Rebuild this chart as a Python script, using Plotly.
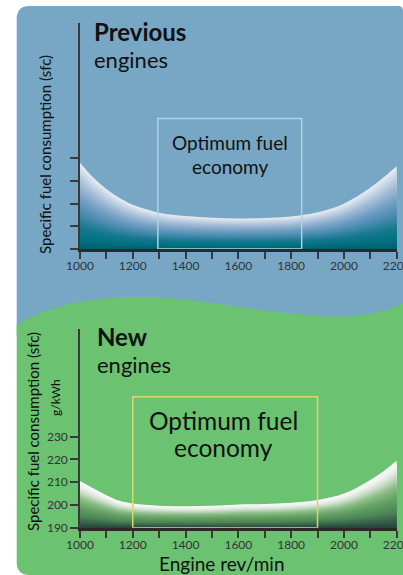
import plotly.graph_objects as go

W, H = 403, 575

# ---------------- data ----------------
rpm = [1000, 1050, 1100, 1150, 1200, 1300, 1400, 1500, 1600, 1700, 1800, 1900, 2000, 2100, 2150, 2200]
sfc_previous = [228.0, 221.5, 216.5, 212.5, 209.5, 206.0, 204.5, 203.8, 203.5, 203.7, 204.3, 206.2, 210.0, 217.0, 221.5, 226.6]
sfc_new = [210.5, 207.3, 204.3, 201.8, 200.6, 199.7, 199.4, 199.6, 200.2, 200.4, 201.0, 202.2, 205.0, 211.0, 214.8, 219.5]

x_tick_vals = [1000, 1100, 1200, 1300, 1400, 1500, 1600, 1700, 1800, 1900, 2000, 2100, 2200]
x_tick_text = ["1000", "", "1200", "", "1400", "", "1600", "", "1800", "", "2000", "", "2200"]
y_tick_vals = [190, 200, 210, 220, 230]
y_tick_text = ["190", "200", "210", "220", "230"]

optimum_previous = [1295, 1840]
optimum_new = [1200, 1900]
optimum_top = 247.5
sfc_base = 190

# ---------------- helpers ----------------
def px(x):
    return x / W

def py(y):
    return 1 - y / H

def hex2rgb(h):
    h = h.lstrip("#")
    return tuple(int(h[i:i + 2], 16) for i in (0, 2, 4))

def interp_color(stops, t):
    for (f0, c0), (f1, c1) in zip(stops[:-1], stops[1:]):
        if f0 <= t <= f1:
            a = (t - f0) / (f1 - f0) if f1 > f0 else 0
            r0, g0, b0 = hex2rgb(c0)
            r1, g1, b1 = hex2rgb(c1)
            return "rgb(%d,%d,%d)" % (round(r0 + (r1 - r0) * a), round(g0 + (g1 - g0) * a), round(b0 + (b1 - b0) * a))
    return stops[-1][1]

stops_prev = [(0.0, "#005d6d"), (0.1, "#00717f"), (0.25, "#15798e"), (0.42, "#4a8bb0"),
              (0.6, "#77a1c5"), (0.78, "#a8c0d9"), (0.92, "#d2dde9"), (1.0, "#e7edf4")]
stops_new = [(0.0, "#24423a"), (0.1, "#355f49"), (0.25, "#4d8756"), (0.45, "#64a265"),
             (0.62, "#8dbd8a"), (0.78, "#cfe0cd"), (0.9, "#f0f3f0"), (1.0, "#fafafa")]

fig = go.Figure()

N = 40
def add_gradient(curve, stops, xa, ya):
    # draw from the top (lightest) down, each layer filled to the axis so no seams show
    for k in range(N, 0, -1):
        f = k / N
        yk = [sfc_base + (v - sfc_base) * f for v in curve]
        fig.add_trace(go.Scatter(x=rpm, y=yk, mode="lines", line=dict(width=0, shape="spline", smoothing=1.0),
                                 fill="tozeroy", fillcolor=interp_color(stops, (k - 0.5) / N),
                                 xaxis=xa, yaxis=ya, hoverinfo="skip", showlegend=False))

add_gradient(sfc_previous, stops_prev, "x", "y")
add_gradient(sfc_new, stops_new, "x2", "y2")

# ---------------- background panels ----------------
blue = "#78a7c5"
green = "#6bc271"

def path(cmds):
    out = []
    for c in cmds:
        if isinstance(c, str):
            out.append(c)
        else:
            out.append("%.5f,%.5f" % (px(c[0]), py(c[1])))
    return " ".join(out)

blue_path = path(["M", (16.7, 19), "Q", (16.7, 6), (29.7, 6), "L", (398, 6), "Q", (403, 6), (403, 11),
                  "L", (403, 335), "L", (16.7, 335), "Z"])
green_path = path(["M", (16.7, 325), "C", (50, 303), (100, 297), (140, 297),
                   "C", (200, 297), (260, 314), (330, 316.5),
                   "C", (370, 317), (390, 310), (403, 303),
                   "L", (403, 575), "L", (29.7, 575), "Q", (16.7, 575), (16.7, 562), "Z"])

shapes = [
    dict(type="path", path=blue_path, xref="paper", yref="paper", fillcolor=blue, line=dict(width=0), layer="below"),
    dict(type="path", path=green_path, xref="paper", yref="paper", fillcolor=green, line=dict(width=0), layer="below"),
    dict(type="rect", xref="x", yref="y", x0=optimum_previous[0], x1=optimum_previous[1], y0=sfc_base, y1=optimum_top,
         line=dict(color="#a9d6de", width=1.5), fillcolor="rgba(0,0,0,0)", layer="above"),
    dict(type="rect", xref="x2", yref="y2", x0=optimum_new[0], x1=optimum_new[1], y0=sfc_base, y1=optimum_top,
         line=dict(color="#d9d66c", width=1.5), fillcolor="rgba(0,0,0,0)", layer="above"),
]

FONT = "Lato"
TXT = "#111111"

def ann(text, x, y, size, bold=False, xanchor="left", angle=0, color=TXT):
    return dict(text=("<b>%s</b>" % text) if bold else text, x=px(x), y=py(y), xref="paper", yref="paper",
                xanchor=xanchor, yanchor="middle", showarrow=False, textangle=angle,
                font=dict(family=FONT, size=size, color=color))

annotations = [
    ann("Previous", 92, 32, 24, bold=True),
    ann("engines", 92, 60, 22),
    ann("Optimum fuel", 230, 143, 19, xanchor="center"),
    ann("economy", 230, 166, 19, xanchor="center"),
    ann("New", 95, 336, 24, bold=True),
    ann("engines", 95, 364, 22),
    ann("Optimum fuel", 223, 420, 24.5, xanchor="center"),
    ann("economy", 223, 447, 24.5, xanchor="center"),
    ann("Specific fuel consumption (sfc)", 45, 155, 15, xanchor="center", angle=-90),
    ann("Specific fuel consumption (sfc)", 33, 432, 15, xanchor="center", angle=-90),
    ann("g/kWh", 55, 398, 12, xanchor="center", angle=-90),
    ann("Engine rev/min", 222, 563, 19, xanchor="center"),
]

xdom = [px(80), px(396.7)]
axis_common_x = dict(range=[1000, 2200], domain=xdom, showgrid=False, zeroline=False, showline=True,
                     linecolor="#2a2a2a", linewidth=3, ticks="outside", ticklen=7, tickwidth=1.5,
                     tickcolor="#3a3a3a", tickvals=x_tick_vals, ticktext=x_tick_text, automargin=False,
                     ticklabeloverflow="allow", ticklabelstandoff=-3,
                     tickfont=dict(family=FONT, size=12, color="#333333"), fixedrange=True)
axis_common_y = dict(showgrid=False, zeroline=False, showline=True, linecolor="#3a3a3a", linewidth=1.5,
                     ticks="outside", ticklen=8, tickwidth=1.5, tickcolor="#3a3a3a", automargin=False,
                     tickvals=y_tick_vals, ticktext=y_tick_text,
                     tickfont=dict(family=FONT, size=12, color="#333333"), fixedrange=True)

fig.update_layout(
    template="none",
    width=W, height=H,
    margin=dict(l=0, r=0, t=0, b=0, autoexpand=False),
    paper_bgcolor="white", plot_bgcolor="rgba(0,0,0,0)",
    showlegend=False,
    xaxis=dict(axis_common_x, anchor="y"),
    yaxis=dict(axis_common_y, anchor="x", domain=[py(249), py(23.3)], range=[190, 289.5], showticklabels=False),
    xaxis2=dict(axis_common_x, anchor="y2"),
    yaxis2=dict(axis_common_y, anchor="x2", domain=[py(527.7), py(329.3)], range=[190, 277.2], showticklabels=True),
    shapes=shapes,
    annotations=annotations,
)

fig.write_html("out.html", config=dict(displayModeBar=False))
